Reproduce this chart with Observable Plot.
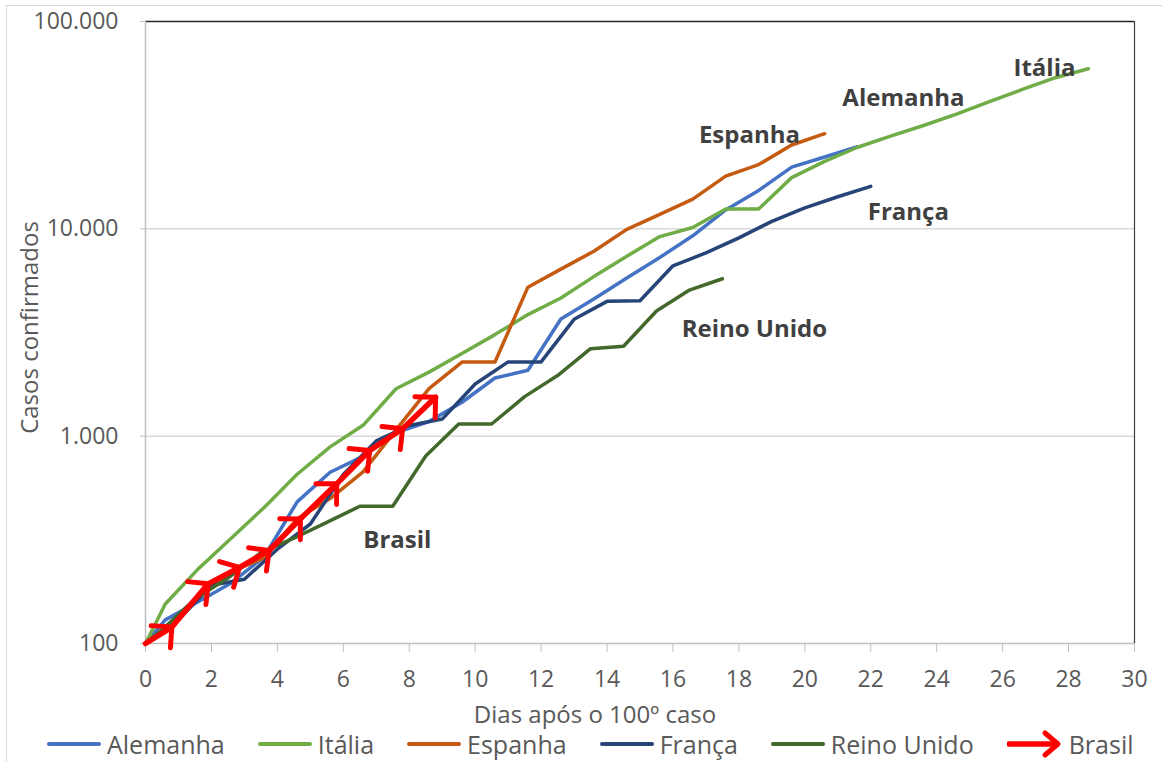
<!DOCTYPE html>
<html>
<head>
<meta charset="utf-8">
<script src="https://cdn.jsdelivr.net/npm/d3@7"></script>
<script src="https://cdn.jsdelivr.net/npm/@observablehq/plot@0.6"></script>
<style>
  body { margin: 0; background: #fff; font-family: "Open Sans", sans-serif; }
  #wrap { position: relative; width: 1162px; height: 762px; overflow: hidden; }
  #border { position: absolute; left: 6px; top: 5px; width: 1170px; height: 800px; border: 1px solid #d9d9d9; box-sizing: border-box; }
  #chart { position: absolute; left: 0; top: 0; }
  #legend { position: absolute; left: 47px; top: 729px; height: 30px; display: flex; align-items: center; font-size: 25px; color: #595959; white-space: nowrap; }
  .item { display: flex; align-items: center; margin-right: 33px; }
  .item svg { margin-right: 6px; }
</style>
</head>
<body>
<div id="wrap">
  <div id="border"></div>
  <div id="chart"></div>
  <div id="legend"></div>
</div>
<script>
// ---- data ----
const alemanhaDias  = [0, 0.6, 1.6, 2.6, 3.6, 4.6, 5.6, 6.6, 7.6, 8.6, 9.6, 10.6, 11.6, 12.6, 13.6, 14.6, 15.6, 16.6, 17.6, 18.6, 19.6, 20.6, 21.6];
const alemanhaCasos = [100, 130, 159, 196, 262, 482, 670, 799, 1040, 1176, 1457, 1908, 2078, 3675, 4585, 5795, 7272, 9257, 12327, 15320, 19848, 22213, 24873];

const italiaDias  = [0, 0.6, 1.6, 2.6, 3.6, 4.6, 5.6, 6.6, 7.6, 8.6, 9.6, 10.6, 11.6, 12.6, 13.6, 14.6, 15.6, 16.6, 17.6, 18.6, 19.6, 20.6, 21.6, 22.6, 23.6, 24.6, 25.6, 26.6, 27.6, 28.6];
const italiaCasos = [100, 155, 229, 322, 453, 655, 888, 1128, 1694, 2036, 2502, 3089, 3858, 4636, 5883, 7375, 9172, 10149, 12462, 12462, 17660, 21157, 24747, 27980, 31506, 35713, 41035, 47021, 53578, 59138];

const espanhaDias  = [0, 0.6, 1.6, 2.6, 3.6, 4.6, 5.6, 6.6, 7.6, 8.6, 9.6, 10.6, 11.6, 12.6, 13.6, 14.6, 15.6, 16.6, 17.6, 18.6, 19.6, 20.6];
const espanhaCasos = [100, 120, 165, 222, 259, 400, 500, 673, 1073, 1695, 2277, 2277, 5232, 6391, 7798, 9942, 11748, 13910, 17963, 20410, 25374, 28768];

const francaDias  = [0, 1, 2, 3, 4, 5, 6, 7, 8, 9, 10, 11, 12, 13, 14, 15, 16, 17, 18, 19, 20, 21, 22];
const francaCasos = [100, 130, 191, 204, 285, 377, 653, 949, 1126, 1209, 1784, 2281, 2281, 3661, 4469, 4499, 6633, 7652, 9043, 10871, 12612, 14282, 16018];

const reinoUnidoDias  = [0, 0.5, 1.5, 2.5, 3.5, 4.5, 5.5, 6.5, 7.5, 8.5, 9.5, 10.5, 11.5, 12.5, 13.5, 14.5, 15.5, 16.5, 17.5];
const reinoUnidoCasos = [100, 116, 164, 207, 274, 322, 384, 459, 459, 802, 1144, 1145, 1551, 1960, 2642, 2716, 4014, 5067, 5745];

const brasilDias  = [0, 0.8, 1.9, 2.85, 3.75, 4.7, 5.8, 6.8, 7.8, 8.8];
const brasilCasos = [100, 120, 194, 233, 281, 399, 589, 853, 1085, 1541];

const paises = ["Alemanha", "Itália", "Espanha", "França", "Reino Unido", "Brasil"];
const cores  = ["#4472C4", "#70AD47", "#C55A11", "#264478", "#43682B", "#FF0000"];

const xTicks = [0, 2, 4, 6, 8, 10, 12, 14, 16, 18, 20, 22, 24, 26, 28, 30];
const yTicks = [100, 1000, 10000, 100000];

const xTitulo = "Dias após o 100º caso";
const yTitulo = "Casos confirmados";

// label anchors (data coordinates)
const rotulos = [
  {texto: "Itália",      dia: 27.27, casos: 59300},
  {texto: "Alemanha",    dia: 22.99, casos: 42500},
  {texto: "Espanha",     dia: 18.32, casos: 28200},
  {texto: "França",      dia: 23.14, casos: 12000},
  {texto: "Reino Unido", dia: 18.47, casos: 3270},
  {texto: "Brasil",      dia: 7.64,  casos: 313}
];

// ---- build ----
const seriesList = [
  ["Alemanha", alemanhaDias, alemanhaCasos],
  ["Itália", italiaDias, italiaCasos],
  ["Espanha", espanhaDias, espanhaCasos],
  ["França", francaDias, francaCasos],
  ["Reino Unido", reinoUnidoDias, reinoUnidoCasos]
];
const rows = seriesList.flatMap(([nome, dias, casos]) => dias.map((d, i) => ({pais: nome, dia: d, casos: casos[i]})));
const brasilRows = brasilDias.map((d, i) => ({pais: "Brasil", dia: d, casos: brasilCasos[i]}));

const ptFmt = d3.formatLocale({decimal: ",", thousands: ".", grouping: [3], currency: ["R$", ""]}).format(",d");

const svg = Plot.plot({
  width: 1162,
  height: 728,
  marginLeft: 145,
  marginRight: 28,
  marginTop: 21,
  marginBottom: 85,
  style: {fontFamily: "'Open Sans', sans-serif", fontSize: "23px", color: "#595959", background: "transparent", overflow: "visible"},
  x: {domain: [0, 30]},
  y: {type: "log", domain: [100, 100000]},
  color: {domain: paises, range: cores},
  marks: [
    Plot.ruleY([1000, 10000], {stroke: "#d9d9d9", strokeWidth: 1.5}),
    Plot.ruleY([100000], {stroke: "#262626", strokeWidth: 1.5}),
    Plot.ruleX([30], {stroke: "#404040", strokeWidth: 1.2}),
    Plot.ruleY([100], {stroke: "#bfbfbf", strokeWidth: 1.5}),
    Plot.ruleX([0], {stroke: "#bfbfbf", strokeWidth: 1.5}),
    Plot.axisX({ticks: xTicks, tickSize: 9, tickPadding: 18, stroke: "#bfbfbf", fill: "#595959", label: null, fontSize: 23}),
    Plot.axisY({ticks: yTicks, tickSize: 5, tickPadding: 22, tickFormat: ptFmt, stroke: "#bfbfbf", fill: "#595959", label: null, fontSize: 23}),
    Plot.line(rows, {x: "dia", y: "casos", z: "pais", stroke: "pais", strokeWidth: 3.5, strokeLinejoin: "round"}),
    Plot.line(brasilRows, {x: "dia", y: "casos", stroke: "pais", strokeWidth: 5.5, markerMid: "arrow", markerEnd: "arrow"}),
    Plot.text(rotulos, {x: "dia", y: "casos", text: "texto", fontWeight: "bold", fontSize: 24, fill: "#404040"}),
    Plot.text([xTitulo], {text: d => d, frameAnchor: "bottom", dy: 79, dx: -45, fontSize: 24, fill: "#595959"}),
    Plot.text([yTitulo], {text: d => d, frameAnchor: "left", textAnchor: "middle", rotate: -90, dx: -115, dy: -5, fontSize: 24, fill: "#595959"})
  ]
});

// enlarge the open arrowheads of the Brasil series
svg.querySelectorAll("marker").forEach(m => {
  m.setAttribute("viewBox", "-10 -10 20 20");
  m.setAttribute("markerWidth", 13.34);
  m.setAttribute("markerHeight", 13.34);
  m.setAttribute("stroke-width", 1.35);
  const p = m.querySelector("path");
  if (p) p.setAttribute("d", "M-4,-4L0,0L-4,4");
});

document.getElementById("chart").appendChild(svg);

// ---- legend ----
const legend = document.getElementById("legend");
paises.forEach((p, i) => {
  const item = document.createElement("div");
  item.className = "item";
  const sw = p === "Brasil"
    ? `<svg width="56" height="30"><line x1="2" y1="15" x2="50" y2="15" stroke="${cores[i]}" stroke-width="5.5" stroke-linecap="round"/><polyline points="38,4 51,15 38,26" fill="none" stroke="${cores[i]}" stroke-width="5" stroke-linejoin="round" stroke-linecap="round"/></svg>`
    : `<svg width="54" height="30"><line x1="2" y1="15" x2="52" y2="15" stroke="${cores[i]}" stroke-width="4" stroke-linecap="round"/></svg>`;
  item.innerHTML = sw + `<span>${p}</span>`;
  legend.appendChild(item);
});
</script>
</body>
</html>
